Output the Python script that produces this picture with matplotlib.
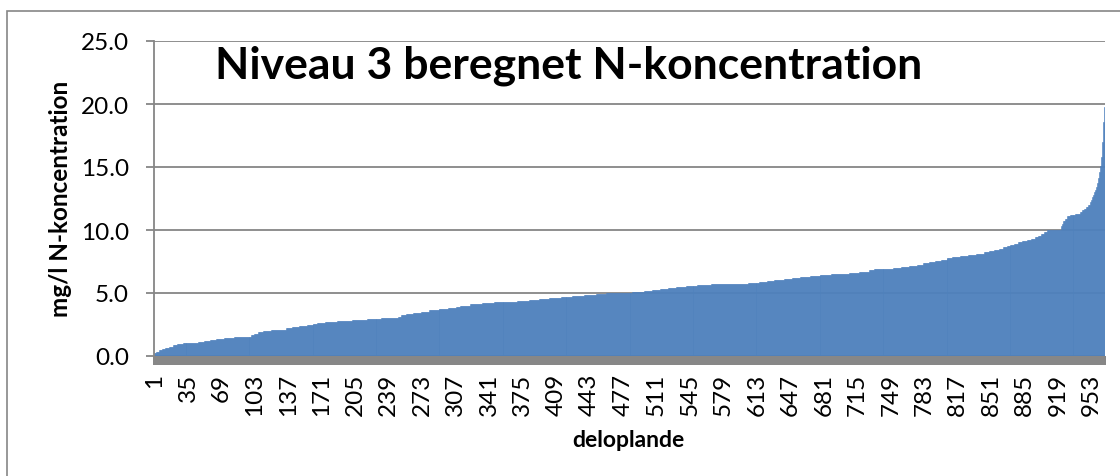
import numpy as np
import matplotlib
matplotlib.use("Agg")
import matplotlib.pyplot as plt
from matplotlib.patches import Rectangle

plt.rcParams['font.family'] = ['Lato', 'DejaVu Sans']

# sorterede N-koncentrationer (mg/l): niveau og antal deloplande pr. niveau
levels = [0.25, 0.35, 0.45, 0.55, 0.65, 0.75, 0.85, 0.95, 1.00, 1.05,
          1.12, 1.20, 1.28, 1.35, 1.42, 1.48, 1.53, 1.65, 1.78, 1.90,
          1.98, 2.03, 2.10, 2.20, 2.28, 2.36, 2.45, 2.55, 2.65, 2.72,
          2.80, 2.86, 2.92, 2.98, 3.10, 3.25, 3.33, 3.43, 3.52, 3.62,
          3.70, 3.80, 3.90, 4.00, 4.10, 4.18, 4.25, 4.32, 4.40, 4.48,
          4.55, 4.60, 4.68, 4.75, 4.82, 4.90, 4.97, 5.00, 5.05, 5.12,
          5.20, 5.30, 5.40, 5.50, 5.58, 5.64, 5.68, 5.73, 5.78, 5.85,
          5.95, 6.03, 6.10, 6.20, 6.28, 6.36, 6.42, 6.48, 6.55, 6.63,
          6.80, 6.88, 6.96, 7.05, 7.15, 7.25, 7.35, 7.45, 7.55, 7.65,
          7.75, 7.85, 7.95, 8.05, 8.12, 8.22, 8.32, 8.42, 8.52, 8.62,
          8.72, 8.82, 8.92, 9.02, 9.12, 9.22, 9.32, 9.45, 9.55, 9.65,
          9.85, 10.0, 10.3, 10.5, 10.7, 10.9, 11.1, 11.2, 11.3, 11.4,
          11.55, 11.7, 11.85, 12.0, 12.2, 12.4, 12.6, 12.8, 13.0, 13.2,
          13.4, 13.7, 14.1, 14.6, 15.1, 15.8, 17.0, 18.6, 19.8]
counts = [2, 3, 3, 3, 4, 4, 4, 6, 8, 8,
          6, 6, 6, 8, 10, 10, 8, 3, 4, 5,
          8, 10, 5, 6, 7, 8, 6, 5, 8, 12,
          15, 15, 15, 17, 3, 5, 7, 8, 8, 10,
          10, 8, 4, 10, 12, 12, 12, 12, 12, 10,
          10, 12, 12, 12, 12, 10, 15, 12, 12, 8,
          8, 8, 8, 10, 12, 14, 22, 15, 12, 8,
          7, 10, 8, 8, 10, 10, 12, 18, 10, 10,
          5, 20, 8, 8, 8, 6, 6, 6, 6, 6,
          6, 8, 8, 8, 8, 5, 5, 5, 4, 4,
          4, 4, 4, 4, 5, 4, 4, 3, 3, 3,
          3, 14, 1, 1, 2, 2, 3, 6, 5, 2,
          2, 2, 2, 2, 1, 1, 1, 1, 1, 1,
          1, 1, 1, 1, 1, 1, 1, 1, 1]

# kategoriakse: hvert 34. delopland vises
tick_labels = [1, 35, 69, 103, 137, 171, 205, 239, 273, 307, 341, 375, 409, 443,
               477, 511, 545, 579, 613, 647, 681, 715, 749, 783, 817, 851, 885,
               919, 953]

values = np.repeat(levels, counts)
n = len(values)
x = np.arange(1, n + 1)

grey = '#868686'

fig = plt.figure(figsize=(11.2, 4.77), dpi=100)
ax = fig.add_axes([154 / 1120, 120 / 477, 951 / 1120, 315 / 477])

ax.bar(x, values, width=1.0, color='#4F81BD', edgecolor='#4F81BD', linewidth=0.4)

ax.set_xlim(0.5, n + 0.5)
ax.set_ylim(0, 25)
ax.set_yticks([0, 5, 10, 15, 20, 25])
ax.set_yticklabels([f"{v:.1f}" for v in [0, 5, 10, 15, 20, 25]])
ax.set_xticks(tick_labels)
ax.set_xticklabels([str(t) for t in tick_labels], rotation=90)

ax.yaxis.grid(True, color=grey, linewidth=1.3)
ax.set_axisbelow(True)
for side in ['top', 'right', 'bottom']:
    ax.spines[side].set_visible(False)
ax.spines['left'].set_color(grey)
ax.spines['left'].set_linewidth(1.3)
ax.tick_params(axis='y', length=6, width=1.3, color=grey, pad=12, labelsize=17.5)
ax.tick_params(axis='x', length=0, pad=12, labelsize=17.5)

# grå "gulv" under søjlerne
ax.add_patch(Rectangle((-0.001, -9 / 315), 1.002, 9 / 315, transform=ax.transAxes,
                       facecolor='#878787', edgecolor='none', clip_on=False, zorder=3))

# titel og aksetitler
fig.text(569 / 1120, 1 - 78 / 477, 'Niveau 3 beregnet N-koncentration',
         ha='center', va='baseline', fontsize=32, fontweight='bold')
fig.text(60 / 1120, 1 - 199 / 477, 'mg/l N-koncentration', rotation=90,
         ha='center', va='center', fontsize=17.5, fontweight='bold')
fig.text(628 / 1120, 1 - 447 / 477, 'deloplande',
         ha='center', va='baseline', fontsize=16.5, fontweight='bold')

# diagramramme (beskåret i højre side og bunden)
fig.add_artist(Rectangle((7 / 1120, -0.1), 1.2, 1.1 - 12 / 477, transform=fig.transFigure,
                         fill=False, edgecolor=grey, linewidth=1.2))

fig.savefig('out.png', dpi=100)
